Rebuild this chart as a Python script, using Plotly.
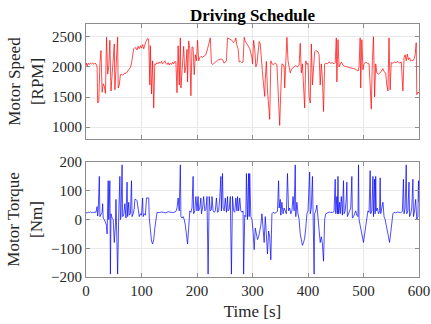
import plotly.graph_objects as go
from plotly.subplots import make_subplots

# ---- Data ----
speed_t = [0, 1, 2, 4, 6, 8, 10, 12, 14, 16, 18, 20, 21, 23, 25, 27, 29, 31, 33, 35, 37, 39, 41, 43, 45, 47, 49, 51, 52, 54, 55, 57, 58, 60, 62, 64, 66, 68, 70, 72, 74, 76, 78, 80, 82, 84, 86, 88, 90, 92, 94, 96, 98, 100, 102, 104, 106, 108, 110, 112, 113, 115, 116, 118, 120, 122, 124, 126, 128, 130, 132, 134, 136, 138, 140, 142, 144, 146, 148, 150, 152, 154, 156, 158, 160, 162, 164, 166, 168, 170, 171, 173, 175, 176, 178, 180, 182, 183, 185, 187, 189, 191, 193, 195, 197, 199, 201, 203, 205, 207, 210, 213, 216, 219, 222, 224, 226, 228, 231, 234, 237, 240, 243, 246, 249, 251, 253, 255, 258, 261, 264, 266, 268, 270, 272, 274, 276, 278, 280, 283, 285, 287, 290, 293, 295, 297, 299, 300, 302, 304, 306, 308, 310, 312, 314, 316, 318, 320, 322, 323, 325, 327, 329, 331, 333, 335, 338, 341, 344, 346, 348, 349, 351, 353, 355, 357, 358, 360, 362, 364, 366, 368, 370, 372, 375, 378, 381, 384, 386, 388, 390, 392, 394, 396, 398, 400, 402, 404, 406, 408, 410, 412, 414, 416, 418, 420, 422, 424, 426, 428, 430, 432, 435, 438, 441, 444, 447, 449, 451, 452, 454, 456, 458, 460, 463, 466, 470, 474, 478, 482, 486, 490, 492, 494, 495, 497, 499, 501, 504, 507, 510, 512, 514, 516, 518, 520, 522, 524, 527, 530, 533, 535, 537, 540, 542, 544, 546, 548, 550, 553, 556, 559, 562, 565, 568, 570, 571, 573, 575, 577, 579, 581, 583, 585, 587, 589, 591, 593, 595, 596, 598, 600]
speed_rpm = [2030, 2060, 2010, 2060, 2040, 2060, 2050, 2065, 2040, 2060, 2050, 2000, 1400, 1430, 2050, 2270, 1580, 1720, 1680, 1560, 2490, 1880, 2000, 2440, 1600, 1850, 2000, 2380, 1620, 1990, 1980, 2490, 1650, 1700, 1870, 1880, 1860, 1880, 1900, 1890, 1920, 1930, 1960, 1990, 2060, 2200, 2300, 2320, 2310, 2280, 2340, 2300, 2350, 2310, 2370, 2300, 2390, 2420, 2460, 2470, 2400, 1700, 2350, 1550, 2100, 1320, 2050, 2040, 2070, 2050, 2080, 2060, 2090, 2050, 2070, 2100, 2060, 2040, 2070, 2030, 2060, 2040, 2080, 2050, 2090, 2080, 1570, 2350, 1700, 2480, 1650, 1900, 2300, 2340, 1900, 2000, 2290, 1750, 2430, 2300, 1520, 2330, 2320, 1870, 2200, 2100, 2440, 2100, 2150, 2170, 2160, 2180, 2200, 2300, 2400, 2480, 2060, 2040, 2060, 2090, 2110, 2120, 2130, 2120, 2060, 2080, 2100, 2480, 2470, 2450, 2430, 2400, 2420, 2480, 2350, 2300, 2080, 2090, 2070, 2080, 2490, 2420, 2380, 2340, 2300, 2230, 2150, 2050, 2440, 2300, 2000, 2050, 2250, 2420, 2380, 2200, 1900, 1700, 1510, 1800, 2090, 1600, 1300, 1130, 2100, 2050, 2040, 2060, 2040, 1700, 1200, 1030, 1600, 2050, 2040, 2000, 1650, 2000, 2490, 2100, 2000, 1900, 1950, 1980, 2000, 2020, 2000, 2030, 2390, 1900, 2050, 1700, 1320, 2100, 2040, 2060, 1500, 1400, 2380, 1700, 2000, 2250, 2270, 2260, 2250, 2200, 1700, 2050, 1800, 1260, 2050, 2060, 2050, 2080, 2060, 2070, 2050, 2070, 2480, 1750, 2450, 2000, 2050, 2080, 2030, 2010, 2000, 1990, 1980, 1970, 1960, 1930, 2000, 2480, 1650, 2450, 1950, 2050, 2080, 2060, 2050, 1700, 1300, 2100, 2500, 1500, 2050, 1900, 1880, 1900, 1940, 1970, 1920, 1900, 1700, 1600, 2480, 1620, 2070, 2060, 2080, 2070, 2090, 2060, 2080, 1800, 1600, 2150, 2200, 2100, 2210, 2120, 2150, 2100, 2110, 2100, 2130, 2200, 2400, 1540, 1580, 1570]

torque_t = [0, 2, 4, 6, 8, 10, 12, 14, 16, 18, 20, 21, 22, 24, 25, 27, 29, 30, 31, 33, 35, 37, 38, 40, 41, 43, 44, 45, 47, 49, 51, 53, 54, 57, 59, 61, 62, 63, 65, 66, 68, 70, 72, 74, 75, 77, 78, 80, 82, 83, 85, 87, 88, 90, 92, 94, 96, 98, 100, 102, 103, 105, 107, 109, 111, 113, 114, 116, 118, 120, 122, 124, 126, 128, 132, 136, 140, 144, 148, 152, 156, 160, 162, 164, 166, 168, 170, 171, 173, 175, 177, 179, 181, 183, 185, 187, 189, 191, 193, 194, 196, 198, 200, 202, 203, 205, 207, 208, 210, 212, 214, 216, 218, 220, 222, 224, 226, 227, 229, 231, 233, 235, 237, 239, 241, 243, 244, 246, 247, 249, 251, 253, 255, 256, 258, 260, 262, 264, 266, 268, 270, 272, 273, 275, 277, 279, 281, 283, 284, 286, 288, 289, 291, 293, 294, 295, 297, 299, 301, 303, 305, 307, 309, 311, 313, 315, 317, 319, 321, 323, 325, 327, 329, 331, 333, 335, 337, 340, 343, 345, 347, 348, 350, 351, 353, 355, 357, 359, 361, 363, 365, 367, 369, 371, 373, 375, 377, 378, 380, 382, 384, 386, 388, 390, 392, 394, 396, 398, 400, 403, 404, 406, 408, 409, 411, 412, 414, 416, 418, 420, 422, 424, 426, 428, 430, 432, 435, 438, 441, 444, 447, 449, 450, 452, 453, 454, 455, 457, 458, 460, 462, 464, 465, 467, 469, 470, 471, 473, 475, 477, 479, 480, 482, 484, 486, 488, 490, 491, 492, 494, 496, 498, 500, 502, 504, 506, 508, 510, 512, 513, 515, 517, 518, 520, 521, 522, 523, 525, 527, 529, 530, 531, 533, 535, 537, 539, 541, 543, 545, 547, 549, 551, 553, 555, 558, 561, 564, 567, 570, 572, 573, 575, 577, 578, 580, 582, 583, 585, 587, 589, 590, 592, 594, 596, 598, 599, 600]
torque_nm = [25, 22, 26, 24, 27, 23, 25, 24, 26, 25, 45, 12, 30, 150, 10, 20, 25, 55, 5, 0, -10, -20, -50, 135, 0, 135, -190, 20, 5, 0, -80, -20, 70, -190, 20, 150, 0, 10, 190, 10, 15, 55, 5, 130, 10, 60, 15, 20, 135, 10, 20, 40, 70, 70, 65, 40, 10, 20, 15, 75, 10, 20, 15, 75, 75, 75, 5, -40, -75, -85, -70, -30, 10, 25, 24, 26, 25, 23, 27, 25, 24, 26, 28, 40, 75, 30, 190, 10, 5, 10, 0, -20, -60, -85, -30, 30, 25, 40, 150, 20, 30, 80, 30, 80, 30, 40, 75, 20, 40, 80, 30, 35, 80, -190, 80, 30, 35, 80, 30, 25, 30, 75, 25, 30, 75, 150, 30, 160, 40, 30, 75, 25, 80, 30, 35, 80, -190, 80, 30, 25, 75, 30, 80, 30, 75, 30, 25, 30, -190, 15, 10, 160, 0, 160, 10, 160, 10, 0, -40, -105, -30, -50, -70, -60, -40, -20, 20, -50, -80, 10, -60, -120, -40, -60, -140, 20, 25, 22, 25, 28, 135, 40, 70, 15, 60, 20, 40, 30, 20, 160, 30, 40, 20, 30, 80, 30, 190, 10, 60, 20, 0, -50, -75, -90, -80, -65, -30, 20, 30, 165, 20, 40, 150, 10, -190, 20, 30, 50, 10, -30, -80, -60, -85, -145, 0, 20, 24, 26, 25, 24, 28, 140, 20, 80, 20, 150, 20, 60, 20, 80, 15, 135, 20, 30, 75, 130, 10, 20, 30, 40, 150, 5, 10, 20, 30, 15, 10, 190, 0, -20, -40, -60, -80, -50, -20, 20, 30, 25, 170, 20, 30, 150, 10, 140, 20, 150, 30, 40, 20, 30, 145, 20, 40, 60, 10, 0, -20, -50, -60, -80, -50, -20, 20, 25, 23, 26, 25, 24, 28, 140, 20, 40, 190, 20, 30, 130, 10, 20, 40, 140, 10, 30, 70, 0, 10, 135, 60]

x_ticks = [0, 100, 200, 300, 400, 500, 600]
speed_ticks = [1000, 1500, 2000, 2500]
torque_ticks = [-200, -100, 0, 100, 200]

title_text = "Driving Schedule"
speed_label = "Motor Speed<br>[RPM]"
torque_label = "Motor Torque<br>[Nm]"
x_label = "Time [s]"

FONT = "Liberation Serif, Times New Roman, serif"
AX_COLOR = "#8c8c8c"
GRID = "#e8e8e8"
TXT = "#262626"

fig = make_subplots(rows=2, cols=1, vertical_spacing=0.0)

fig.add_trace(go.Scatter(x=speed_t, y=speed_rpm, mode="lines",
                         line=dict(color="#ff0000", width=0.7), showlegend=False), row=1, col=1)
fig.add_trace(go.Scatter(x=torque_t, y=torque_nm, mode="lines",
                         line=dict(color="#0000ff", width=0.7), showlegend=False), row=2, col=1)

common_axis = dict(showline=True, linecolor=AX_COLOR, linewidth=1, mirror="ticks",
                   ticks="inside", ticklen=4, tickcolor=AX_COLOR, automargin=False,
                   showgrid=True, gridcolor=GRID, gridwidth=1, zeroline=False,
                   tickfont=dict(family=FONT, size=15, color=TXT))

fig.update_xaxes(range=[0, 600], tickvals=x_ticks, **common_axis)
fig.update_xaxes(showticklabels=False, row=1, col=1)
fig.update_xaxes(title=dict(text=x_label, font=dict(family=FONT, size=17, color=TXT), standoff=7),
                 row=2, col=1)

fig.update_yaxes(range=[805, 2710], tickvals=speed_ticks, **common_axis, row=1, col=1)
fig.update_yaxes(range=[-200, 200], tickvals=torque_ticks, **common_axis, row=2, col=1)
fig.update_yaxes(title=dict(text=speed_label, font=dict(family=FONT, size=17, color=TXT), standoff=4),
                 row=1, col=1)
fig.update_yaxes(title=dict(text=torque_label, font=dict(family=FONT, size=17, color=TXT), standoff=4),
                 row=2, col=1)

fig.update_layout(
    yaxis=dict(domain=[0.5455, 1.0]),
    yaxis2=dict(domain=[0.0, 0.4545]),
    width=431, height=324,
    margin=dict(l=86, r=12, t=24, b=47, autoexpand=False),
    paper_bgcolor="white", plot_bgcolor="white",
    title=dict(text="<b>" + title_text + "</b>", x=(86 + 419) / 2 / 431, xanchor="center",
               y=1 - 15 / 324, yref="container", yanchor="middle",
               font=dict(family=FONT, size=17, color="black")),
)

fig.write_html("out.html")
